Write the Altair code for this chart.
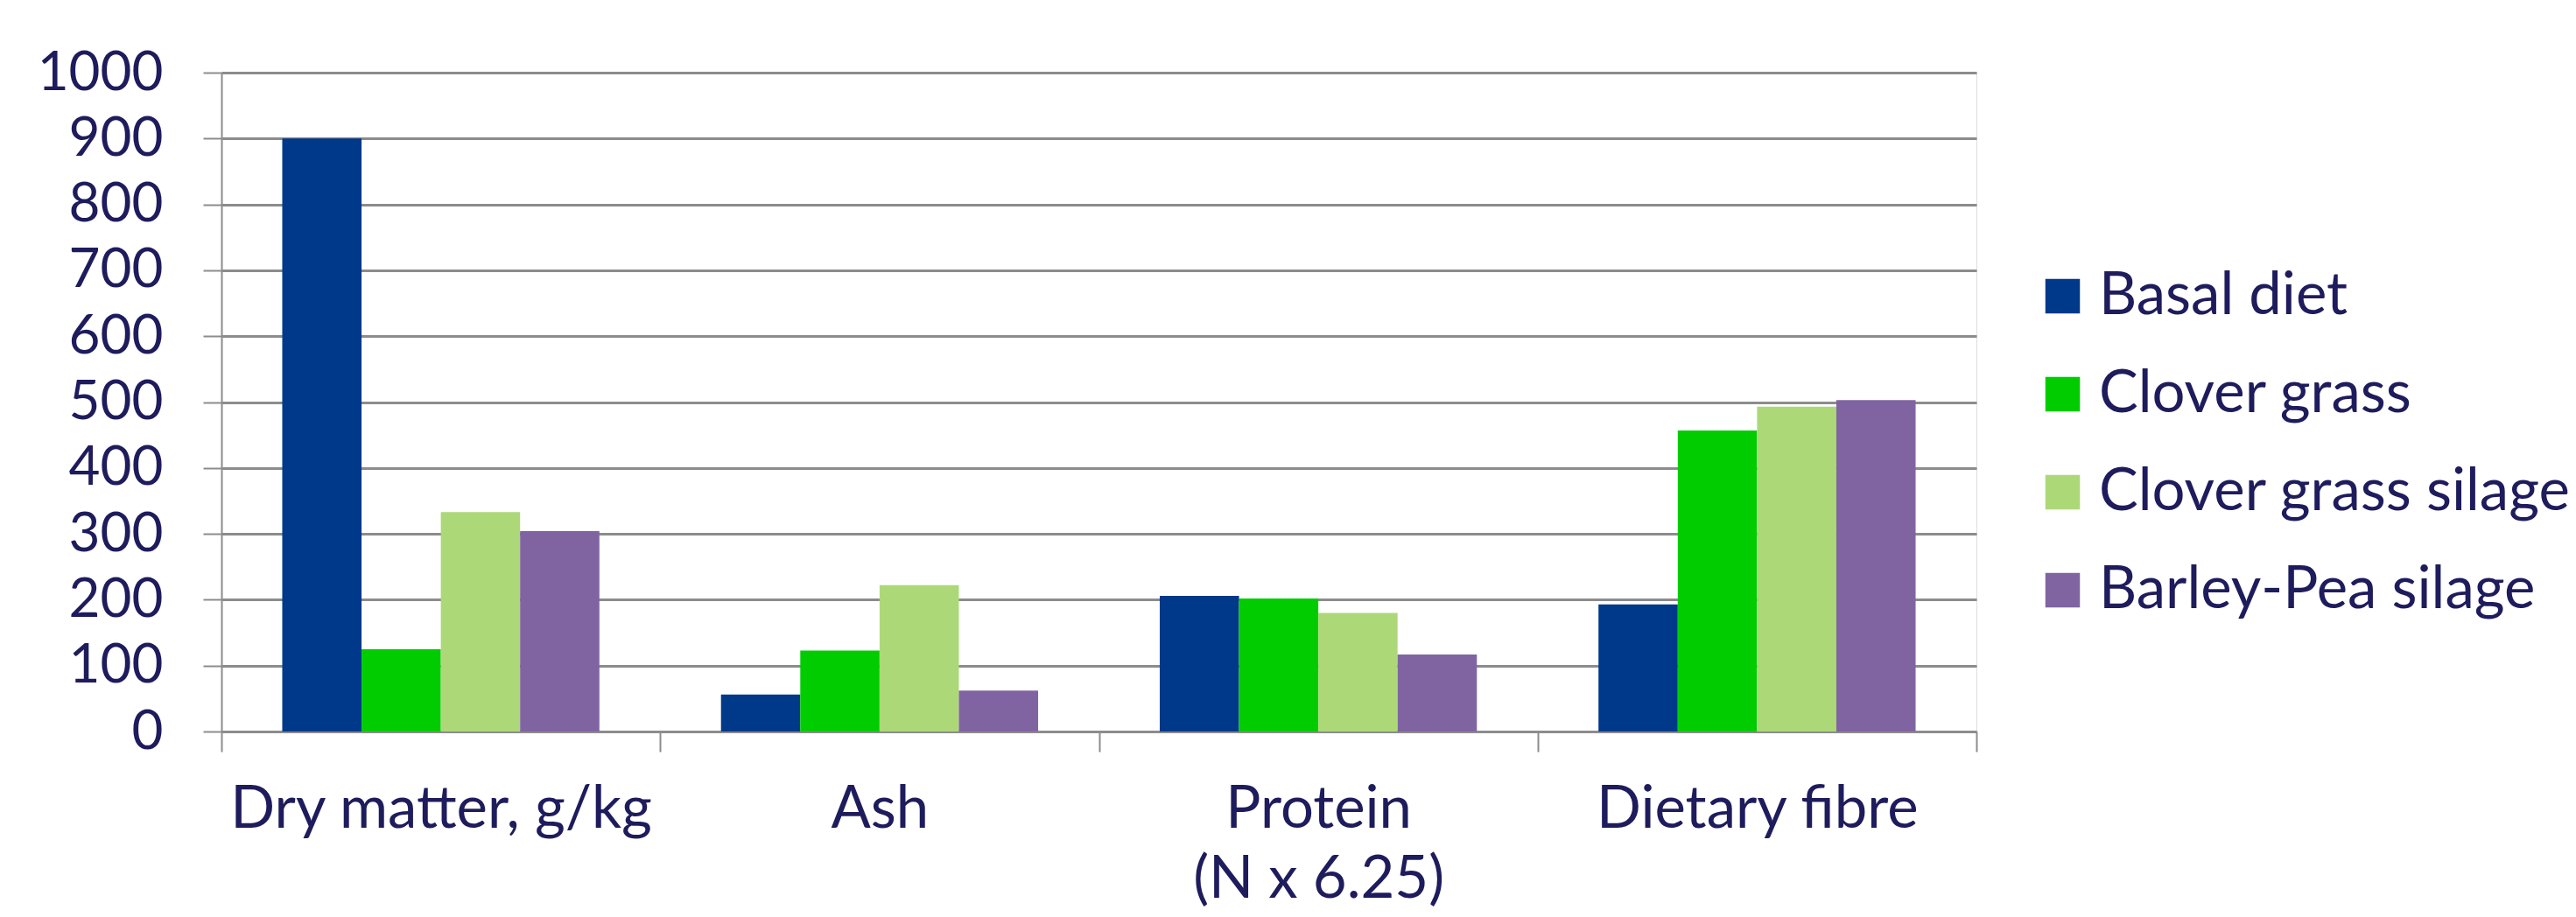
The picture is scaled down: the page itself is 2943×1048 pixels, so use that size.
import altair as alt
import pandas as pd

categories = ["Dry matter, g/kg", "Ash", "Protein\n(N x 6.25)", "Dietary fibre"]
series = ["Basal diet", "Clover grass", "Clover grass silage", "Barley-Pea silage"]
basal_diet = [900, 56, 206, 193]
clover_grass = [125, 123, 202, 457]
clover_grass_silage = [333, 222, 180, 493]
barley_pea_silage = [304, 62, 117, 503]
colors = ["#00388A", "#00CC00", "#ADD878", "#8064A2"]

rows = []
for s, vals in zip(series, [basal_diet, clover_grass, clover_grass_silage, barley_pea_silage]):
    for c, v in zip(categories, vals):
        rows.append({"category": c, "series": s, "value": v})
df = pd.DataFrame(rows)

FONT = "Lato"
TXT = "#1E1C5C"
GRID = "#8C8C8C"

chart = alt.Chart(df).mark_bar().encode(
    x=alt.X("category:N", sort=categories, title=None,
            scale=alt.Scale(paddingInner=0, paddingOuter=0),
            axis=alt.Axis(labelAngle=0, tickBand="extent", tickSize=23, tickColor=GRID, tickWidth=2,
                          domainColor=GRID, domainWidth=2, labelFont=FONT, labelFontSize=67,
                          labelColor=TXT, labelPadding=33, labelLineHeight=80, labelLimit=2000,
                          labelExpr="split(datum.label, '\\n')", grid=False)),
    xOffset=alt.XOffset("series:N", sort=series,
                        scale=alt.Scale(paddingInner=0, paddingOuter=0.767)),
    y=alt.Y("value:Q", title=None,
            scale=alt.Scale(domain=[0, 1000], nice=False),
            axis=alt.Axis(values=list(range(0, 1001, 100)), format="d", tickSize=21, tickColor=GRID,
                          tickWidth=2, gridColor=GRID, gridWidth=3, domainColor=GRID, domainWidth=2,
                          labelFont=FONT, labelFontSize=62, labelColor=TXT, labelPadding=46)),
    color=alt.Color("series:N", sort=series,
                    scale=alt.Scale(domain=series, range=colors),
                    legend=alt.Legend(title=None, orient="none", legendX=2070, legendY=222,
                                      symbolType="square", symbolSize=1560, symbolStrokeWidth=0,
                                      labelFont=FONT, labelFontSize=67, labelColor=TXT,
                                      labelOffset=8, rowPadding=44, labelLimit=1000)),
).properties(
    width=2005, height=753,
    autosize=alt.AutoSizeParams(type="none"),
    padding={"left": 245, "top": 75, "right": 677, "bottom": 204},
).configure_view(stroke=None).configure(background="white")

chart.save("out.html", embed_options={"renderer": "svg", "actions": False})
